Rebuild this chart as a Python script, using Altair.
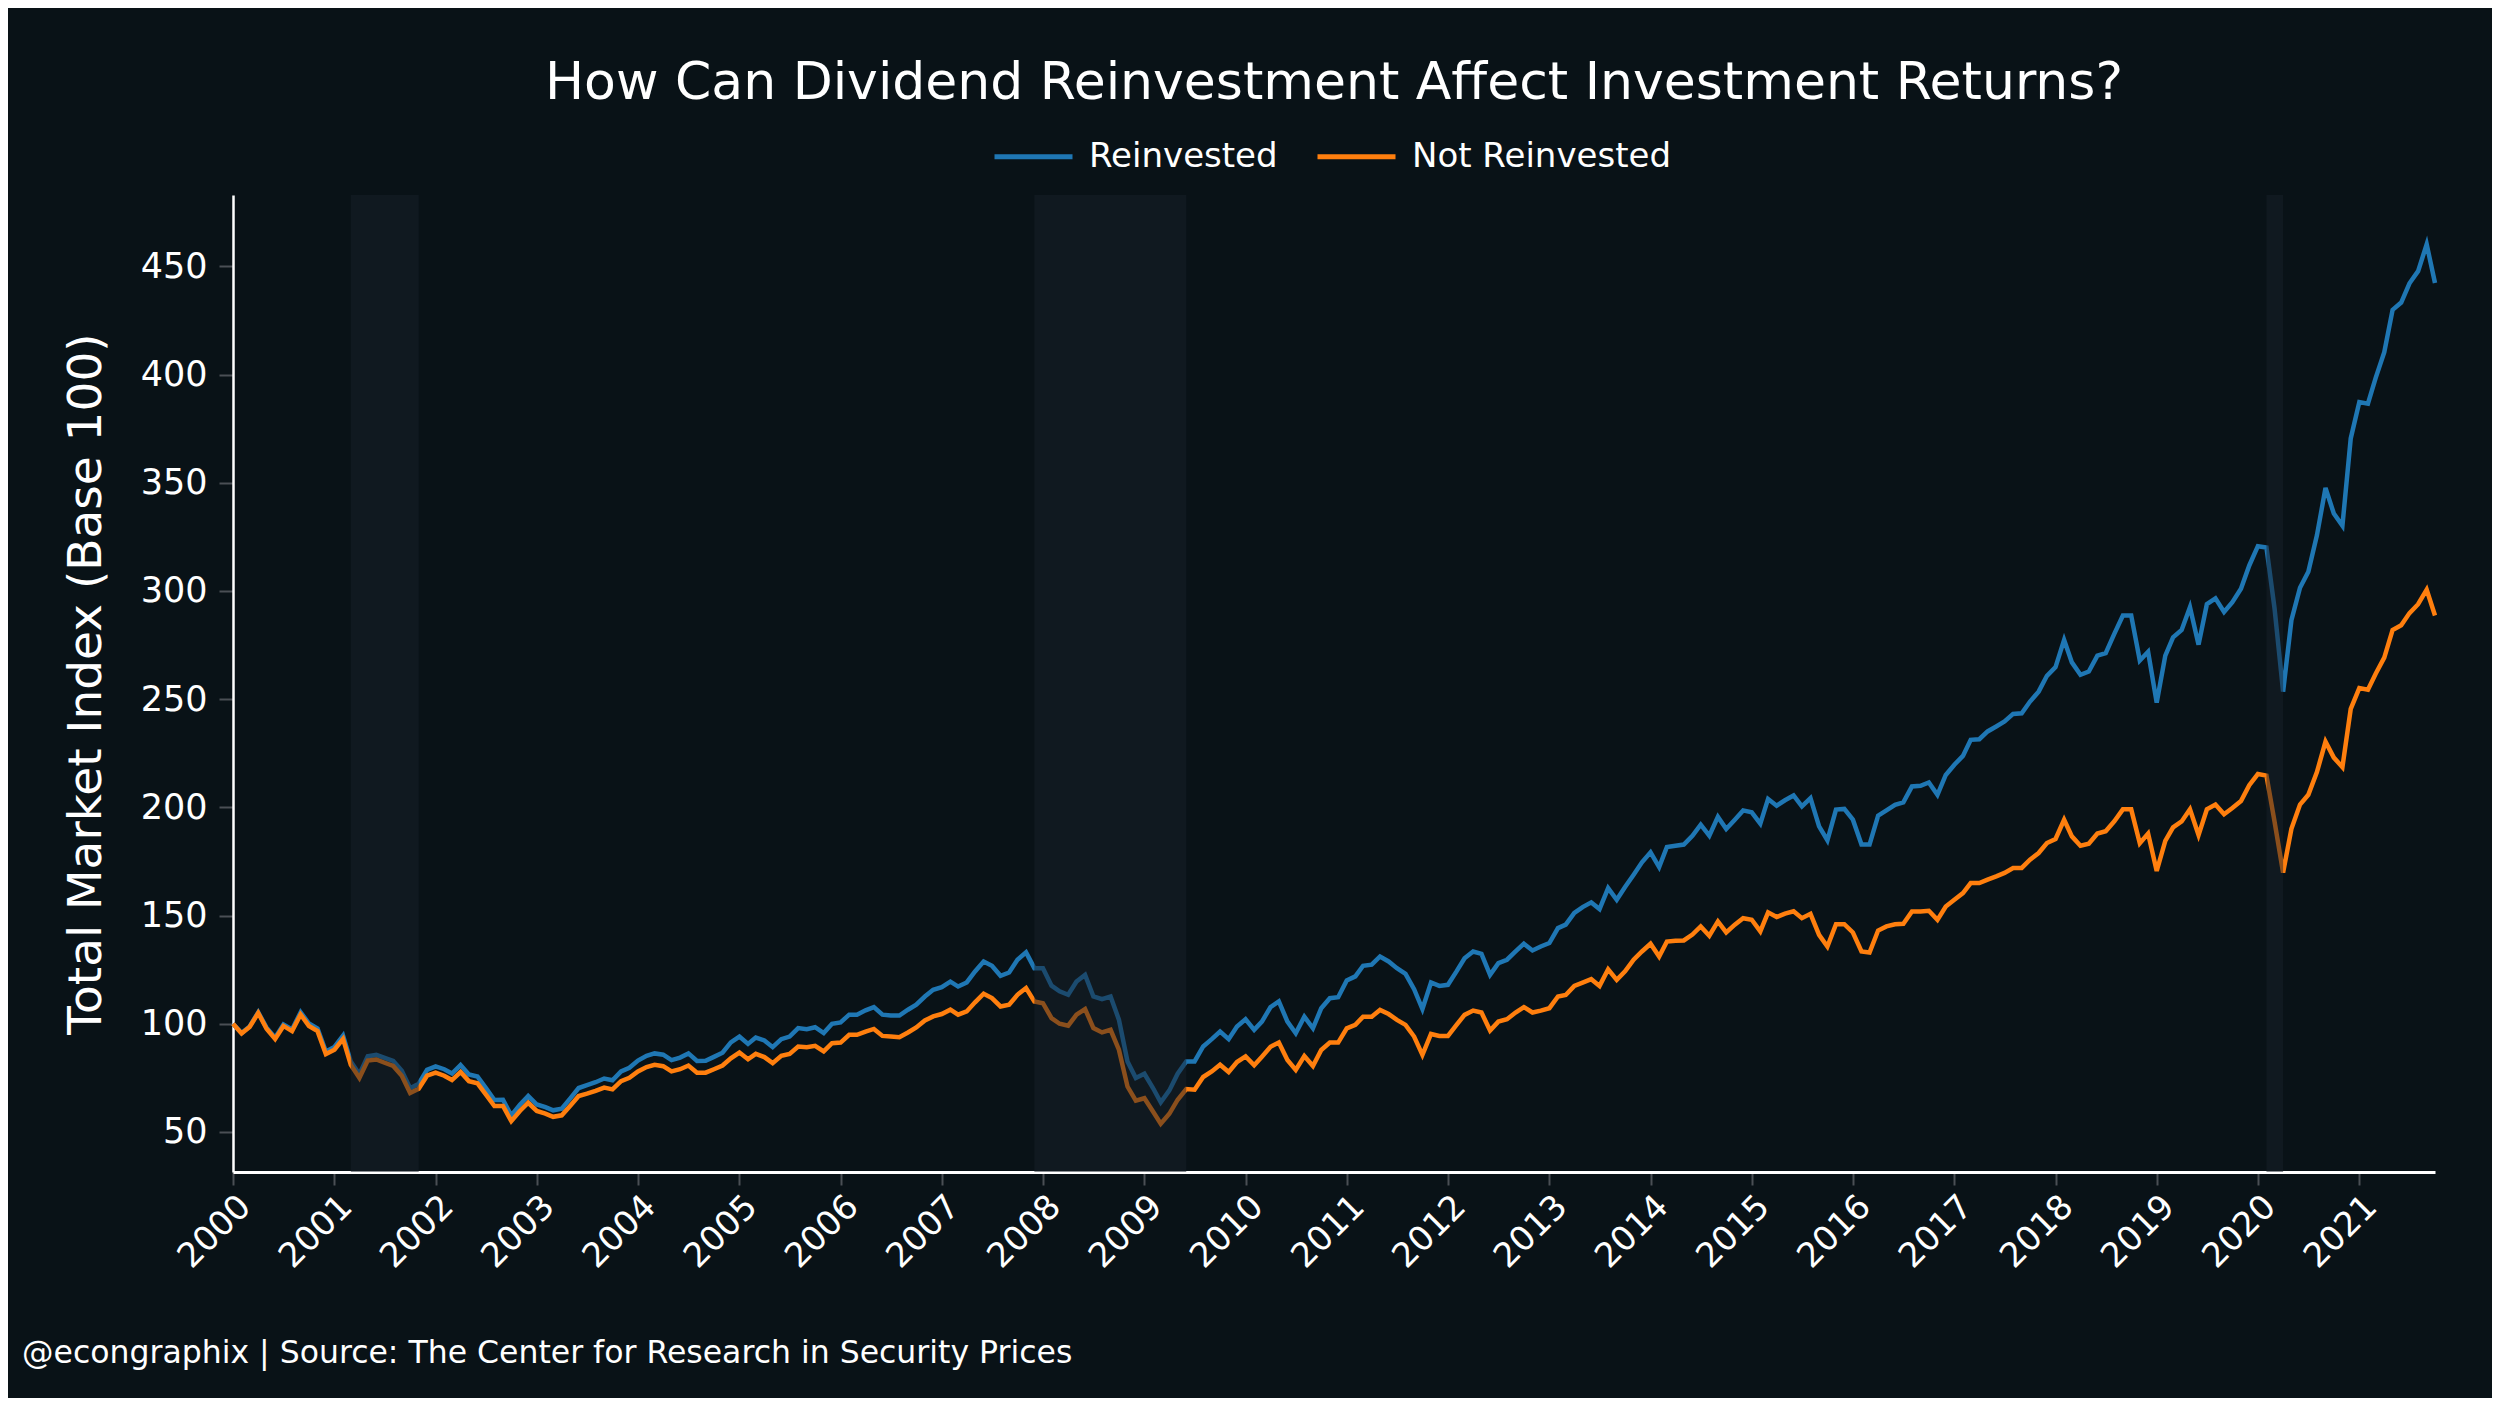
import altair as alt
import pandas as pd

# monthly index levels, Jan 2000 .. Oct 2021 (base 100)
reinvested = [
    100.0, 95.7, 98.8, 105.3, 98.2, 93.6, 99.7, 97.4, 105.3, 100.1, 97.8, 87.2,  # 2000
    89.3, 94.5, 82.5, 76.7, 85.0, 85.6, 84.2, 82.8, 78.3, 70.2, 72.3, 78.7,  # 2001
    80.3, 79.0, 77.0, 80.9, 76.6, 75.6, 70.4, 64.8, 64.9, 57.6, 62.6, 66.6,  # 2002
    62.7, 61.5, 60.0, 60.8, 65.4, 70.3, 71.6, 73.0, 74.7, 73.9, 78.0, 79.7,  # 2003
    83.0, 85.2, 86.3, 85.7, 83.2, 84.4, 86.3, 82.8, 82.9, 84.7, 86.6, 91.4,  # 2004
    94.1, 90.7, 93.6, 92.3, 89.2, 92.9, 94.1, 98.0, 97.5, 98.4, 95.7, 100.0,  # 2005
    100.6, 104.2, 104.2, 106.2, 107.7, 104.2, 103.8, 103.8, 106.5, 108.8, 112.6, 115.7,  # 2006
    116.9, 119.5, 117.2, 119.1, 124.2, 128.8, 126.8, 122.2, 123.7, 129.6, 133.0, 125.7,  # 2007
    125.7, 117.6, 115.0, 113.4, 119.5, 122.6, 112.6, 111.4, 112.6, 101.9, 82.6, 74.9,  # 2008
    76.9, 70.3, 63.7, 69.2, 76.9, 82.6, 82.6, 89.5, 92.9, 96.4, 92.9, 98.7,  # 2009
    102.1, 97.2, 101.0, 107.7, 110.3, 101.0, 95.6, 103.3, 97.9, 107.2, 111.8, 112.3,  # 2010
    120.0, 121.9, 126.8, 127.3, 131.1, 128.8, 125.7, 123.1, 116.0, 106.8, 119.1, 117.5,  # 2011
    118.0, 124.2, 130.3, 133.4, 132.3, 122.6, 128.0, 129.6, 133.4, 137.0, 133.9, 135.7,  # 2012
    137.3, 144.2, 145.8, 151.2, 153.9, 156.1, 153.0, 162.7, 157.3, 163.2, 168.9, 174.6,  # 2013
    179.2, 172.4, 181.7, 182.3, 182.8, 186.9, 192.0, 186.9, 195.6, 190.0, 194.3, 198.6,  # 2014
    197.7, 192.5, 203.9, 200.8, 203.3, 205.5, 200.5, 204.3, 191.2, 184.8, 199.0, 199.3,  # 2015
    194.3, 182.8, 182.8, 196.2, 198.6, 201.2, 202.3, 209.7, 210.0, 211.5, 205.8, 215.0,  # 2016
    219.7, 223.8, 231.2, 231.5, 235.1, 237.4, 239.7, 243.2, 243.5, 248.9, 253.5, 260.8,  # 2017
    264.8, 277.4, 267.0, 261.3, 262.8, 270.1, 271.3, 280.2, 288.7, 288.7, 267.9, 271.9,  # 2018
    248.4, 270.1, 278.6, 282.0, 292.5, 275.2, 293.9, 296.6, 290.3, 294.8, 301.0, 311.8,  # 2019
    320.7, 320.1, 292.1, 253.5, 286.5, 301.5, 308.9, 325.7, 347.6, 335.8, 330.2, 370.5,  # 2020
    387.3, 386.6, 398.5, 410.4, 429.9, 433.3, 442.2, 447.8, 460.2, 442.3,  # 2021
]

not_reinvested = [
    100.0, 95.5, 98.5, 105.0, 97.7, 93.0, 99.0, 96.6, 104.3, 99.0, 96.6, 86.0,  # 2000
    88.0, 93.0, 81.0, 75.0, 83.0, 83.5, 82.0, 80.5, 76.0, 68.0, 70.0, 76.0,  # 2001
    77.4, 76.0, 74.0, 77.7, 73.5, 72.5, 67.4, 62.0, 62.0, 55.0, 59.7, 63.5,  # 2002
    59.7, 58.5, 57.0, 57.7, 62.0, 66.6, 67.7, 69.0, 70.5, 69.7, 73.5, 75.0,  # 2003
    78.0, 80.0, 81.0, 80.4, 78.0, 79.0, 80.7, 77.4, 77.4, 79.0, 80.7, 84.0,  # 2004
    86.7, 83.6, 86.1, 84.6, 81.8, 85.2, 86.1, 89.5, 89.2, 89.8, 87.2, 91.0,  # 2005
    91.3, 94.9, 94.9, 96.4, 97.6, 94.4, 94.1, 93.8, 96.0, 98.3, 101.5, 103.4,  # 2006
    104.5, 106.5, 104.2, 105.7, 109.9, 113.9, 111.9, 108.0, 108.8, 113.4, 116.5, 110.3,  # 2007
    109.5, 102.6, 100.0, 99.1, 104.2, 106.8, 98.0, 96.0, 97.2, 88.0, 71.0, 64.5,  # 2008
    65.6, 59.5, 53.8, 58.4, 64.9, 69.8, 69.5, 75.4, 78.0, 81.1, 77.7, 82.3,  # 2009
    84.9, 80.8, 84.8, 89.4, 91.3, 83.3, 78.7, 85.1, 80.5, 87.9, 91.3, 91.3,  # 2010
    97.9, 99.5, 103.3, 103.3, 106.4, 104.5, 101.8, 99.5, 94.1, 85.6, 95.3, 94.4,  # 2011
    94.4, 99.5, 104.1, 106.1, 105.2, 96.9, 101.0, 102.1, 105.2, 107.7, 105.2, 106.1,  # 2012
    107.2, 112.6, 113.3, 117.5, 119.0, 120.6, 117.5, 125.2, 120.3, 124.2, 129.6, 133.4,  # 2013
    137.0, 131.1, 138.0, 138.4, 138.5, 141.2, 145.0, 140.7, 147.3, 142.2, 145.8, 148.8,  # 2014
    148.1, 142.7, 151.5, 149.3, 150.9, 152.0, 148.8, 150.8, 141.1, 135.7, 146.0, 146.0,  # 2015
    142.2, 133.4, 132.9, 143.1, 145.0, 146.0, 146.2, 151.9, 151.9, 152.2, 148.0, 154.2,  # 2016
    157.3, 160.4, 165.0, 165.0, 166.6, 168.1, 169.7, 172.0, 172.0, 175.8, 178.9, 183.5,  # 2017
    185.4, 194.3, 186.6, 182.3, 183.2, 187.9, 189.0, 193.6, 199.1, 199.1, 183.4, 187.9,  # 2018
    170.6, 184.5, 190.8, 193.5, 199.1, 187.2, 199.1, 201.3, 196.8, 199.7, 202.9, 210.3,  # 2019
    215.4, 214.7, 193.5, 169.9, 190.1, 201.3, 205.8, 216.3, 230.4, 223.0, 218.6, 245.5,  # 2020
    255.1, 254.4, 261.8, 269.2, 282.0, 284.2, 289.8, 293.9, 300.6, 288.7,  # 2021
]

months = pd.date_range("2000-01-01", "2021-10-01", freq="MS")
years = list(range(2000, 2022))
y_ticks = [50, 100, 150, 200, 250, 300, 350, 400, 450]

recession_start = ["2001-03-01", "2007-12-01", "2020-02-01"]
recession_end = ["2001-11-01", "2009-06-01", "2020-04-01"]

series_names = ["Reinvested", "Not Reinvested"]
series_colors = ["#1f77b4", "#ff7f0e"]

TITLE = "How Can Dividend Reinvestment Affect Investment Returns?"
FOOTER = "@econgraphix | Source: The Center for Research in Security Prices"
FONT = "DejaVu Sans"
BG = "#091217"


def build_frames():
    """Long table for the lines, plus the recession bands."""
    df = pd.concat(
        [
            pd.DataFrame({"date": months, "value": reinvested, "series": series_names[0]}),
            pd.DataFrame({"date": months, "value": not_reinvested, "series": series_names[1]}),
        ],
        ignore_index=True,
    )
    rec = pd.DataFrame({"start": recession_start, "end": recession_end})
    return df, rec


def plot_returns():
    df, rec = build_frames()
    x_domain = [
        alt.DateTime(year=2000, month=1, date=1),
        alt.DateTime(year=2021, month=10, date=1),
    ]

    lines = (
        alt.Chart(df)
        .mark_line(strokeWidth=4.5)
        .encode(
            x=alt.X(
                "date:T",
                title=None,
                scale=alt.Scale(domain=x_domain),
                axis=alt.Axis(
                    values=[alt.DateTime(year=y, month=1, date=1) for y in years],
                    format="%Y",
                    labelAngle=-45,
                    labelFontSize=34,
                    labelColor="white",
                    labelPadding=4,
                    domainColor="white",
                    domainWidth=3,
                    tickColor="#4a4f55",
                    tickSize=13,
                    tickWidth=2,
                    grid=False,
                ),
            ),
            y=alt.Y(
                "value:Q",
                title="Total Market Index (Base 100)",
                scale=alt.Scale(domain=[31.5, 483], nice=False, zero=False),
                axis=alt.Axis(
                    values=y_ticks,
                    labelFontSize=35,
                    labelColor="white",
                    labelPadding=12,
                    domainColor="white",
                    domainWidth=2.5,
                    tickColor="#4a4f55",
                    tickSize=14,
                    tickWidth=2,
                    titleFontSize=47,
                    titleColor="white",
                    titleFontWeight="normal",
                    titlePadding=30,
                    grid=False,
                ),
            ),
            color=alt.Color(
                "series:N",
                scale=alt.Scale(domain=series_names, range=series_colors),
                legend=alt.Legend(
                    title=None,
                    orient="none",
                    direction="horizontal",
                    legendX=759,
                    legendY=-80,
                    symbolType="stroke",
                    symbolSize=6084,
                    symbolStrokeWidth=5,
                    symbolOpacity=1,
                    labelFontSize=34,
                    labelColor="white",
                    labelLimit=600,
                    labelOffset=14,
                    columnPadding=29,
                ),
            ),
        )
    )

    bands = (
        alt.Chart(rec)
        .mark_rect(color="#171f2a", opacity=0.5)
        .encode(x=alt.X("start:T", title=None), x2="end:T")
    )

    footer = (
        alt.Chart(pd.DataFrame({"t": [FOOTER]}))
        .mark_text(align="left", baseline="middle", fontSize=31.5, color="white", font=FONT)
        .encode(x=alt.value(-211), y=alt.value(1159), text="t:N")
    )

    chart = (
        alt.layer(lines, bands, footer)
        .properties(
            width=2202,
            height=977,
            autosize=alt.AutoSizeParams(type="none"),
            padding={"left": 225, "top": 187, "right": 57, "bottom": 226},
            background=BG,
            view=alt.ViewBackground(stroke="transparent", strokeWidth=0),
            title=alt.TitleParams(
                TITLE,
                anchor="middle",
                frame="group",
                fontSize=52,
                fontWeight="normal",
                color="white",
                font=FONT,
                offset=5,
            ),
        )
        .configure_view(stroke="transparent", strokeWidth=0)
        .configure_axis(domainCap="square")
        .configure(font=FONT)
    )
    return chart


chart = plot_returns()
chart.save("out.html", embed_options={"renderer": "svg", "actions": False})
